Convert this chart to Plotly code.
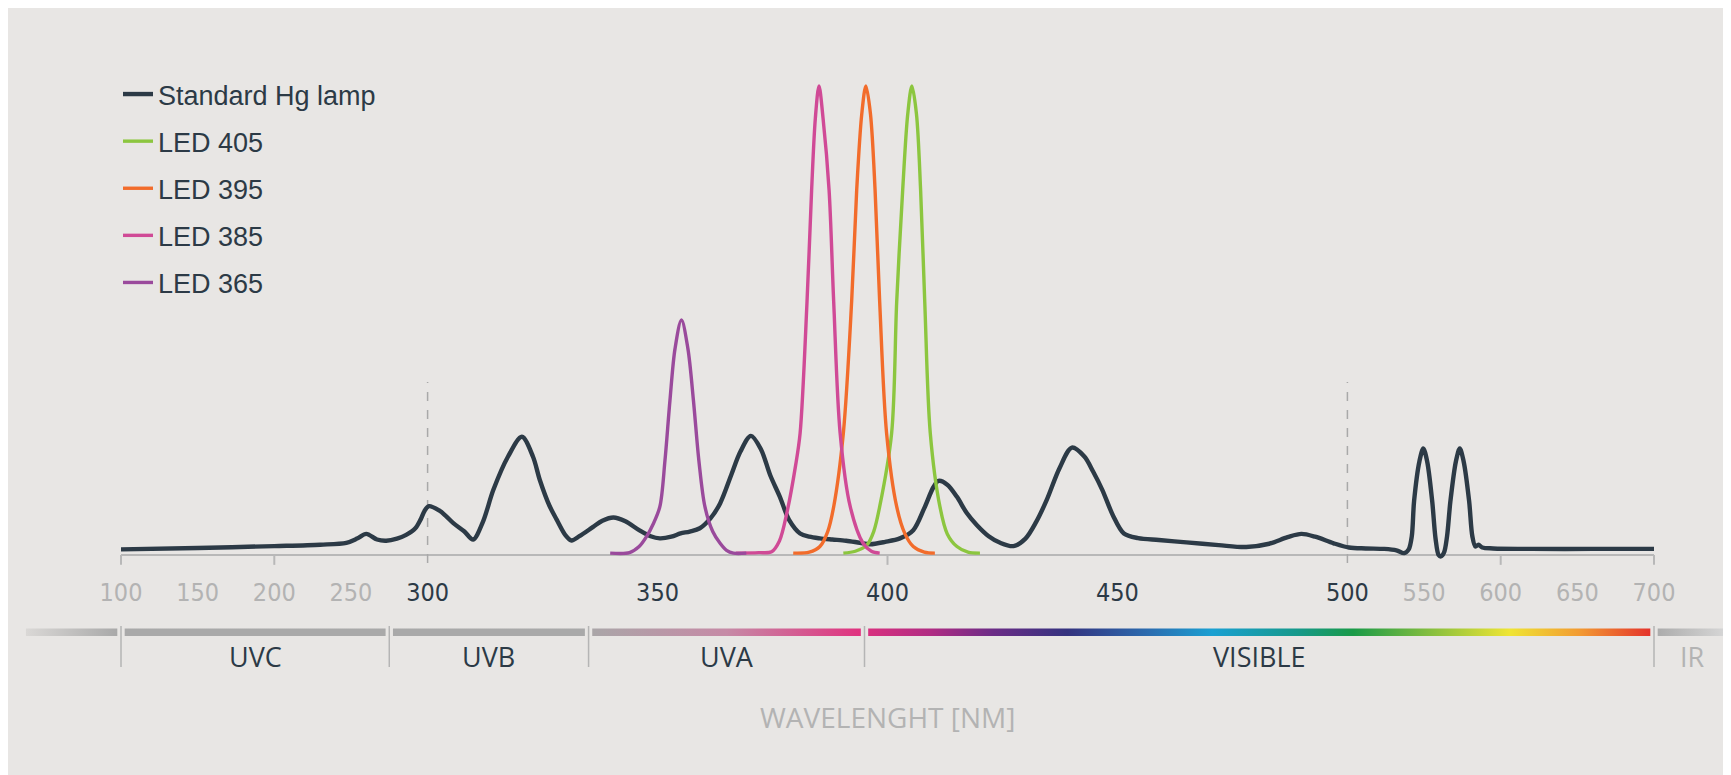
import plotly.graph_objects as go

# ---------------- data ----------------
# Relative intensity (%) vs wavelength (nm)
hg_nm = [100, 150, 200, 230, 247, 254, 260, 267, 273, 280, 286, 292, 295.5, 298, 300.3,
         302.5, 304, 305.6, 308, 309.9, 312, 314.3, 317.5, 320.5, 322.9, 324.4,
         326.5, 328.1, 330, 331.3, 333, 336, 338, 340.4, 343, 346, 348.5, 350.5, 353,
         355, 357, 359.2, 361.5, 363.6, 366, 368, 370.3, 372.5, 374.5, 376.6, 378.6,
         381, 383, 385.3, 388, 391, 394, 396.2, 399.5, 402.7, 405.6, 408, 410, 411.1,
         413, 415.1, 417.2, 419.4, 422, 424.5, 427.4, 430, 432.3, 434.6, 437.4, 440.1,
         442.8, 444.7, 446.7, 449, 451.4, 454.5, 459, 465, 472, 478, 483, 487, 490, 493,
         497, 501, 512, 524, 532, 537, 540, 542, 543.5, 547, 549.5, 552, 555.3, 557.5,
         559.5, 561, 563, 565, 567.2, 570.8, 573.3, 575.8, 579.4, 581.5, 583.5, 585.5,
         588, 595, 620, 660, 700]
hg_val = [1.2, 1.5, 1.9, 2.2, 2.6, 3.5, 4.5, 3.3, 3.05, 3.5, 4.3, 5.7, 7.6, 9.4, 10.4,
          9.5, 8.3, 6.8, 5.0, 3.3, 7.0, 13.9, 21.0, 25.2, 21.0, 16.0,
          10.5, 7.5, 4.2, 3.1, 4.0, 6.0, 7.3, 8.0, 7.2, 5.3, 4.0, 3.55, 3.9,
          4.6, 5.0, 5.7, 7.8, 11.0, 17.0, 22.0, 25.4, 22.5, 17.0, 12.4, 7.5,
          4.6, 3.9, 3.55, 3.3, 3.05, 2.6, 2.3, 2.8, 3.55, 5.3, 10.0, 14.5, 15.8,
          15.0, 12.4, 9.0, 6.4, 4.0, 2.6, 1.9, 3.5, 7.0, 11.7, 18.5, 22.9,
          21.0, 17.8, 13.9, 8.5, 4.6, 3.6, 3.2, 2.7, 2.1, 1.7, 2.4, 3.8, 4.5, 3.9,
          2.5, 1.6, 1.4, 1.3, 1.0, 0.4, 1.2, 4.0, 11.5, 20.0, 22.7, 20.0, 11.5, 3.5,
          0.0, -0.3, 0.5, 4.0, 11.5, 20.0, 22.7, 20.0, 11.5, 4.0, 1.8, 2.2,
          1.6, 1.4, 1.3, 1.3, 1.3]

led405_nm = [390.4, 393, 395.5, 397, 398.3, 400.9, 402, 403.3, 404.4, 405.3, 406.3, 407.2,
             408.1, 409.3, 411.4, 413, 415.1, 417.5, 420.1]
led405_val = [0.4, 0.8, 2.1, 5, 10.3, 26, 54, 77.8, 94, 100, 94, 77.8, 54, 26, 10.3, 4.5,
              1.8, 0.6, 0.4]

led395_nm = [379.5, 383, 385.3, 387, 388.3, 390.4, 392.2, 393.3, 394.4, 395.3, 396.3, 397.3,
             398.3, 399.8, 402, 403.8, 405.6, 408, 410.3]
led395_val = [0.4, 0.6, 1.8, 5, 10.3, 26, 54, 77.8, 94, 100, 94, 77.8, 54, 26, 10.3, 4.5,
              1.8, 0.6, 0.4]

led385_nm = [367, 372, 374.8, 376.5, 378.1, 380, 381, 382.5, 383.5, 384.3, 385.1, 386,
             387.3, 388.3, 389.7, 391.9, 394.7, 396.5, 398.3]
led385_val = [0.4, 0.5, 0.7, 3.0, 8.9, 19, 26, 54, 77.8, 93, 100, 93, 77.8, 54, 26, 10.3,
              2.5, 0.8, 0.4]

led365_nm = [339.7, 343.9, 346, 347.6, 349, 350.5, 351.6, 352.7, 353.8, 355.2, 356.6, 357.8,
             359, 360.3, 362, 363.6, 365, 366.5, 369.3]
led365_val = [0.4, 0.5, 1.8, 3.9, 6.5, 10.3, 20, 33, 44, 50.1, 44, 33, 20, 10.3, 5, 2.5,
              1.0, 0.4, 0.4]

series_names = ["Standard Hg lamp", "LED 405", "LED 395", "LED 385", "LED 365"]

tick_nm = [100, 150, 200, 250, 300, 350, 400, 450, 500, 550, 600, 650, 700]
tick_labels = ["100", "150", "200", "250", "300", "350", "400", "450", "500",
               "550", "600", "650", "700"]
tick_mark_nm = [100, 200, 400, 600, 700]
dashed_nm = [300, 500]

band_names = ["UVC", "UVB", "UVA", "VISIBLE", "IR"]
band_edges_nm = [100, 275, 335, 395, 700]

# ---------------- styling ----------------
# the page adds an 8 px white body margin, so the figure is 8 px smaller
W, H = 1723, 767
BG = "#e8e6e4"
DARK = "#2c3a46"
GREY_TXT = "#b3b3b3"
LINE_GREY = "#b8b8b8"
colors = {"Standard Hg lamp": "#2c3a46", "LED 405": "#8cc63f", "LED 395": "#f26c2b",
          "LED 385": "#d04a96", "LED 365": "#9a4a9c"}
widths = {"Standard Hg lamp": 4.4, "LED 405": 3.4, "LED 395": 3.4, "LED 385": 3.4,
          "LED 365": 3.4}


def to_axis(w):
    """Piecewise wavelength scale: 300-500 nm is stretched 3x."""
    if w <= 300:
        return (w - 100) / 200.0
    if w <= 500:
        return 1.0 + (w - 300) * 3.0 / 200.0
    return 4.0 + (w - 500) / 200.0


X_RANGE = [-0.36856, 5.25114]
Y_RANGE = [-2.132, 116.63]
MAIN_BOTTOM = 0.273794
AXIS_POS = 0.286832

fig = go.Figure()

data = {"Standard Hg lamp": (hg_nm, hg_val), "LED 405": (led405_nm, led405_val),
        "LED 395": (led395_nm, led395_val), "LED 385": (led385_nm, led385_val),
        "LED 365": (led365_nm, led365_val)}

for name in series_names:
    nm, val = data[name]
    fig.add_trace(go.Scatter(
        x=[to_axis(w) for w in nm], y=val, mode="lines", name=name,
        legendgroup=name,
        line=dict(color=colors[name], width=widths[name], shape="spline", smoothing=0.9),
        hoverinfo="skip"))

# ---------------- spectrum bar (second y axis strip below the chart) ----------------
BAR_TOP, BAR_BOT = 620.5, 628
GAP = 0.012
seg_defs = [
    (-0.31, to_axis(band_edges_nm[0]) - GAP, [[0, "#dad8d6"], [1, "#a9a9a9"]]),
    (to_axis(band_edges_nm[0]) + GAP, to_axis(band_edges_nm[1]) - GAP, [[0, "#a9a9a9"], [1, "#a9a9a9"]]),
    (to_axis(band_edges_nm[1]) + GAP, to_axis(band_edges_nm[2]) - GAP, [[0, "#a9a9a9"], [1, "#a9a9a9"]]),
    (to_axis(band_edges_nm[2]) + GAP, to_axis(band_edges_nm[3]) - GAP,
     [[0, "#aaa6a8"], [0.5, "#c68aa6"], [1, "#e0327f"]]),
    (to_axis(band_edges_nm[3]) + GAP, to_axis(band_edges_nm[4]) - GAP,
     [[0.0, "#d8317f"], [0.08, "#b02c83"], [0.16, "#6b2c86"], [0.255, "#34337f"],
      [0.36, "#2b6db0"], [0.44, "#1aa0d2"], [0.55, "#16998a"], [0.62, "#1a9a48"],
      [0.71, "#7cbb40"], [0.82, "#efe534"], [0.91, "#f29a32"], [1.0, "#e4332c"]]),
    (to_axis(band_edges_nm[4]) + GAP, X_RANGE[1], [[0, "#acacac"], [1, "#dadada"]]),
]
for x0, x1, cs in seg_defs:
    fig.add_trace(go.Scatter(
        x=[x0, x1, x1, x0, x0], y=[BAR_TOP, BAR_TOP, BAR_BOT, BAR_BOT, BAR_TOP],
        yaxis="y2", mode="lines", fill="toself", line=dict(width=0),
        fillgradient=dict(type="horizontal", colorscale=cs),
        showlegend=False, hoverinfo="skip"))

shapes = [
    dict(type="line", xref="x", yref="y", x0=to_axis(100), x1=to_axis(700), y0=0, y1=0,
         line=dict(color=LINE_GREY, width=2), layer="below"),
]
for t in dashed_nm:
    shapes.append(dict(type="line", xref="x", yref="y", x0=to_axis(t), x1=to_axis(t),
                       y0=-1.7, y1=36.9, line=dict(color="#a9a9a9", width=1.5, dash="dash"),
                       layer="below"))
for t in tick_mark_nm:
    shapes.append(dict(type="line", xref="x", yref="y", x0=to_axis(t), x1=to_axis(t),
                       y0=0, y1=-2.1, line=dict(color=LINE_GREY, width=2), layer="below"))
for e in band_edges_nm:
    shapes.append(dict(type="line", xref="x", yref="y2", x0=to_axis(e), x1=to_axis(e),
                       y0=618, y1=659, line=dict(color="#b5b5b5", width=1.5)))

annotations = []
band_centers = [(to_axis(band_edges_nm[i]) + to_axis(band_edges_nm[i + 1])) / 2
                for i in range(len(band_edges_nm) - 1)]
band_centers.append((to_axis(band_edges_nm[-1]) + X_RANGE[1]) / 2)
for name, xc in zip(band_names, band_centers):
    annotations.append(dict(x=xc, y=648, xref="x", yref="y2", text=name, showarrow=False,
                            font=dict(family="Open Sans", size=27,
                                      color=GREY_TXT if name == "IR" else DARK),
                            xanchor="center", yanchor="middle"))
annotations.append(dict(x=(to_axis(100) + to_axis(700)) / 2, y=709, xref="x", yref="y2",
                        text="WAVELENGHT [NM]", showarrow=False,
                        font=dict(family="Open Sans", size=28, color=GREY_TXT),
                        xanchor="center", yanchor="middle"))

tick_text = [
    f'<span style="color:{DARK if 300 <= t <= 500 else GREY_TXT}">{lab}</span>'
    for t, lab in zip(tick_nm, tick_labels)
]

fig.update_layout(
    width=W, height=H, margin=dict(l=0, r=0, t=0, b=0, pad=0),
    paper_bgcolor=BG, plot_bgcolor="rgba(0,0,0,0)",
    xaxis=dict(range=X_RANGE, domain=[0, 1], anchor="free", position=AXIS_POS,
               showgrid=False, zeroline=False, showline=False, ticks="",
               tickmode="array", tickvals=[to_axis(t) for t in tick_nm], ticktext=tick_text,
               tickfont=dict(family="Liberation Sans Narrow, DejaVu Sans Condensed, "
                                    "Roboto Condensed, Liberation Sans",
                             size=25, color=GREY_TXT),
               ticklabelstandoff=20, fixedrange=True),
    yaxis=dict(range=Y_RANGE, domain=[MAIN_BOTTOM, 1], visible=False, fixedrange=True),
    yaxis2=dict(range=[767, 557], domain=[0, MAIN_BOTTOM], anchor="x", visible=False,
                fixedrange=True),
    legend=dict(x=110 / W, y=1 - 62 / H, xanchor="left", yanchor="top",
                bgcolor="rgba(0,0,0,0)", traceorder="grouped", tracegroupgap=9,
                font=dict(family="Liberation Sans, Arial", size=27, color=DARK)),
    showlegend=True, hovermode=False,
    shapes=shapes, annotations=annotations,
)

fig.write_html("out.html")
